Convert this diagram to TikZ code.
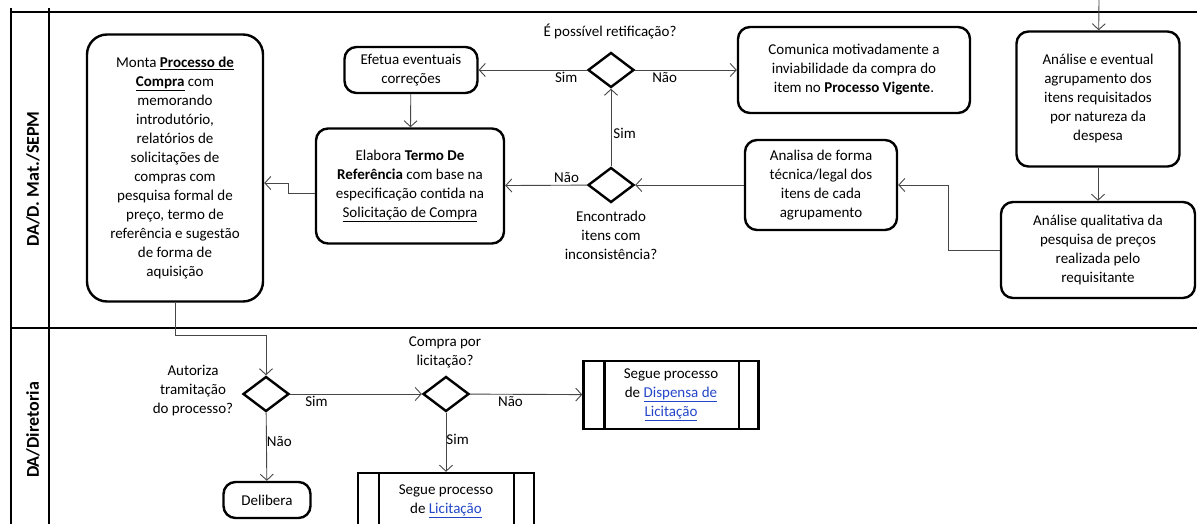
\documentclass[tikz,border=0pt]{standalone}
\usepackage{fontspec}
\setmainfont{Carlito}
\usepackage{xcolor}
\usepackage{tikz}
\usetikzlibrary{shapes.geometric,arrows.meta,positioning}

\definecolor{linkblue}{RGB}{35,70,200}
\definecolor{wire}{RGB}{70,70,70}
\newcommand{\lnk}[1]{\textcolor{linkblue}{\underline{#1}}}

\begin{document}
\begin{tikzpicture}[x=1pt, y=-1pt, >={Straight Barb[length=6pt,width=13pt]},
    font=\fontsize{15}{19}\selectfont]

\tikzstyle{box}=[draw=black, line width=2.4pt, rounded corners=12pt, align=center, inner sep=2pt]
\tikzstyle{proc}=[draw=black, line width=2.4pt, align=center, inner sep=2pt]
\tikzstyle{decision}=[draw=black, line width=2.4pt, diamond, inner sep=0pt, minimum width=46pt, minimum height=35pt]
\tikzstyle{flow}=[->, draw=wire, line width=0.9pt]
\tikzstyle{lane}=[draw=black, line width=1.8pt]
\tikzstyle{question}=[align=center, inner sep=0pt]
\tikzstyle{answer}=[inner sep=2pt]

\useasboundingbox (0,0) rectangle (1197,524);

% swimlanes
\draw[lane] (11,8) -- (11,524);
\draw[lane] (49,8) -- (49,524);
\draw[lane] (11,12) -- (1197,12);
\draw[lane] (11,328) -- (1197,328);
\node[rotate=90, font=\fontsize{18}{20}\selectfont\bfseries] (laneA) at (33,179) {DA/D. Mat./SEPM};
\node[rotate=90, font=\fontsize{18}{20}\selectfont\bfseries] (laneB) at (33,430) {DA/Diretoria};

% upper lane
\node[box, rounded corners=20pt, minimum width=176pt, minimum height=267pt] (monta) at (175,168)
  {Monta \underline{\textbf{Processo de}}\\ \underline{\textbf{Compra}} com\\ memorando\\ introdutório,\\
   relatórios de\\ solicitações de\\ compras com\\ pesquisa formal de\\ preço, termo de\\
   referência e sugestão\\ de forma de\\ aquisição};
\node[box, minimum width=133pt, minimum height=46pt] (efetua) at (411,70) {Efetua eventuais\\ correções};
\node[box, minimum width=188pt, minimum height=115pt] (elabora) at (410,186)
  {Elabora \textbf{Termo De}\\ \textbf{Referência} com base na\\ especificação contida na\\ \underline{Solicitação de Compra}};
\node[decision] (d_ret) at (611,70) {};
\node[question] (q_ret) at (610,31) {É possível retificação?};
\node[decision] (d_inc) at (611,185) {};
\node[question] (q_inc) at (611,235) {Encontrado\\ itens com\\ inconsistência?};
\node[box, minimum width=232pt, minimum height=86pt] (comunica) at (854,70)
  {Comunica motivadamente a\\ inviabilidade da compra do\\ item no \textbf{Processo Vigente}.};
\node[box, minimum width=152pt, minimum height=90pt] (tecnica) at (821,185)
  {Analisa de forma\\ técnica/legal dos\\ itens de cada\\ agrupamento};
\node[box, minimum width=163pt, minimum height=135pt] (agrupa) at (1098,99)
  {Análise e eventual\\ agrupamento dos\\ itens requisitados\\ por natureza da\\ despesa};
\node[box, minimum width=194pt, minimum height=96pt] (qualit) at (1098,250)
  {Análise qualitativa da\\ pesquisa de preços\\ realizada pelo\\ requisitante};
\coordinate (entry) at (1099,0);

% lower lane
\node[decision] (d_aut) at (266,394) {};
\node[question] (q_aut) at (193,391) {Autoriza\\ tramitação\\ do processo?};
\node[decision] (d_lic) at (446,394) {};
\node[question] (q_lic) at (445,352) {Compra por\\ licitação?};
\node[box, minimum width=87pt, minimum height=36pt] (delibera) at (267,500) {Delibera};
\node[proc, minimum width=176pt, minimum height=57pt] (licit) at (446,501.5) {Segue processo\\ de \lnk{Licitação}};
\node[proc, minimum width=175pt, minimum height=68pt] (dispensa) at (671,395) {Segue processo\\ de \lnk{Dispensa de}\\ \lnk{Licitação}};
\foreach \n in {licit,dispensa} {
  \draw[line width=2.4pt] ([xshift=22pt]\n.north west) -- ([xshift=22pt]\n.south west);
  \draw[line width=2.4pt] ([xshift=-21pt]\n.north east) -- ([xshift=-21pt]\n.south east);
}

\path
(entry) edge[flow] (agrupa)
(agrupa) edge[flow] (qualit)
(tecnica) edge[flow] (d_inc)
(d_inc) edge[flow] node[answer, above, pos=0.25] {Não} (elabora)
(d_inc) edge[flow] node[answer, right, pos=0.42] {Sim} (d_ret)
(d_ret) edge[flow] node[answer, below, pos=0.19] {Sim} (efetua)
(d_ret) edge[flow] node[answer, below, pos=0.29] {Não} (comunica)
(efetua) edge[flow] (elabora)
(d_aut) edge[flow] node[answer, below, pos=0.2] {Sim} (d_lic)
(d_aut) edge[flow] node[answer, right, pos=0.43, inner sep=0pt] {Não} (delibera)
(d_lic) edge[flow] node[answer, right, pos=0.46, inner sep=0pt] {Sim} (licit)
(d_lic) edge[flow] node[answer, below, pos=0.36] {Não} (dispensa);

\draw[flow] (qualit.west) -- (948,250) |- (tecnica.east);
\draw[flow] ([yshift=-7pt]elabora.west) -- (288,193) |- ([yshift=-15pt]monta.east);
\draw[flow] (monta.south) -- ++(0,33) -| (d_aut.north);

\end{tikzpicture}
\end{document}
